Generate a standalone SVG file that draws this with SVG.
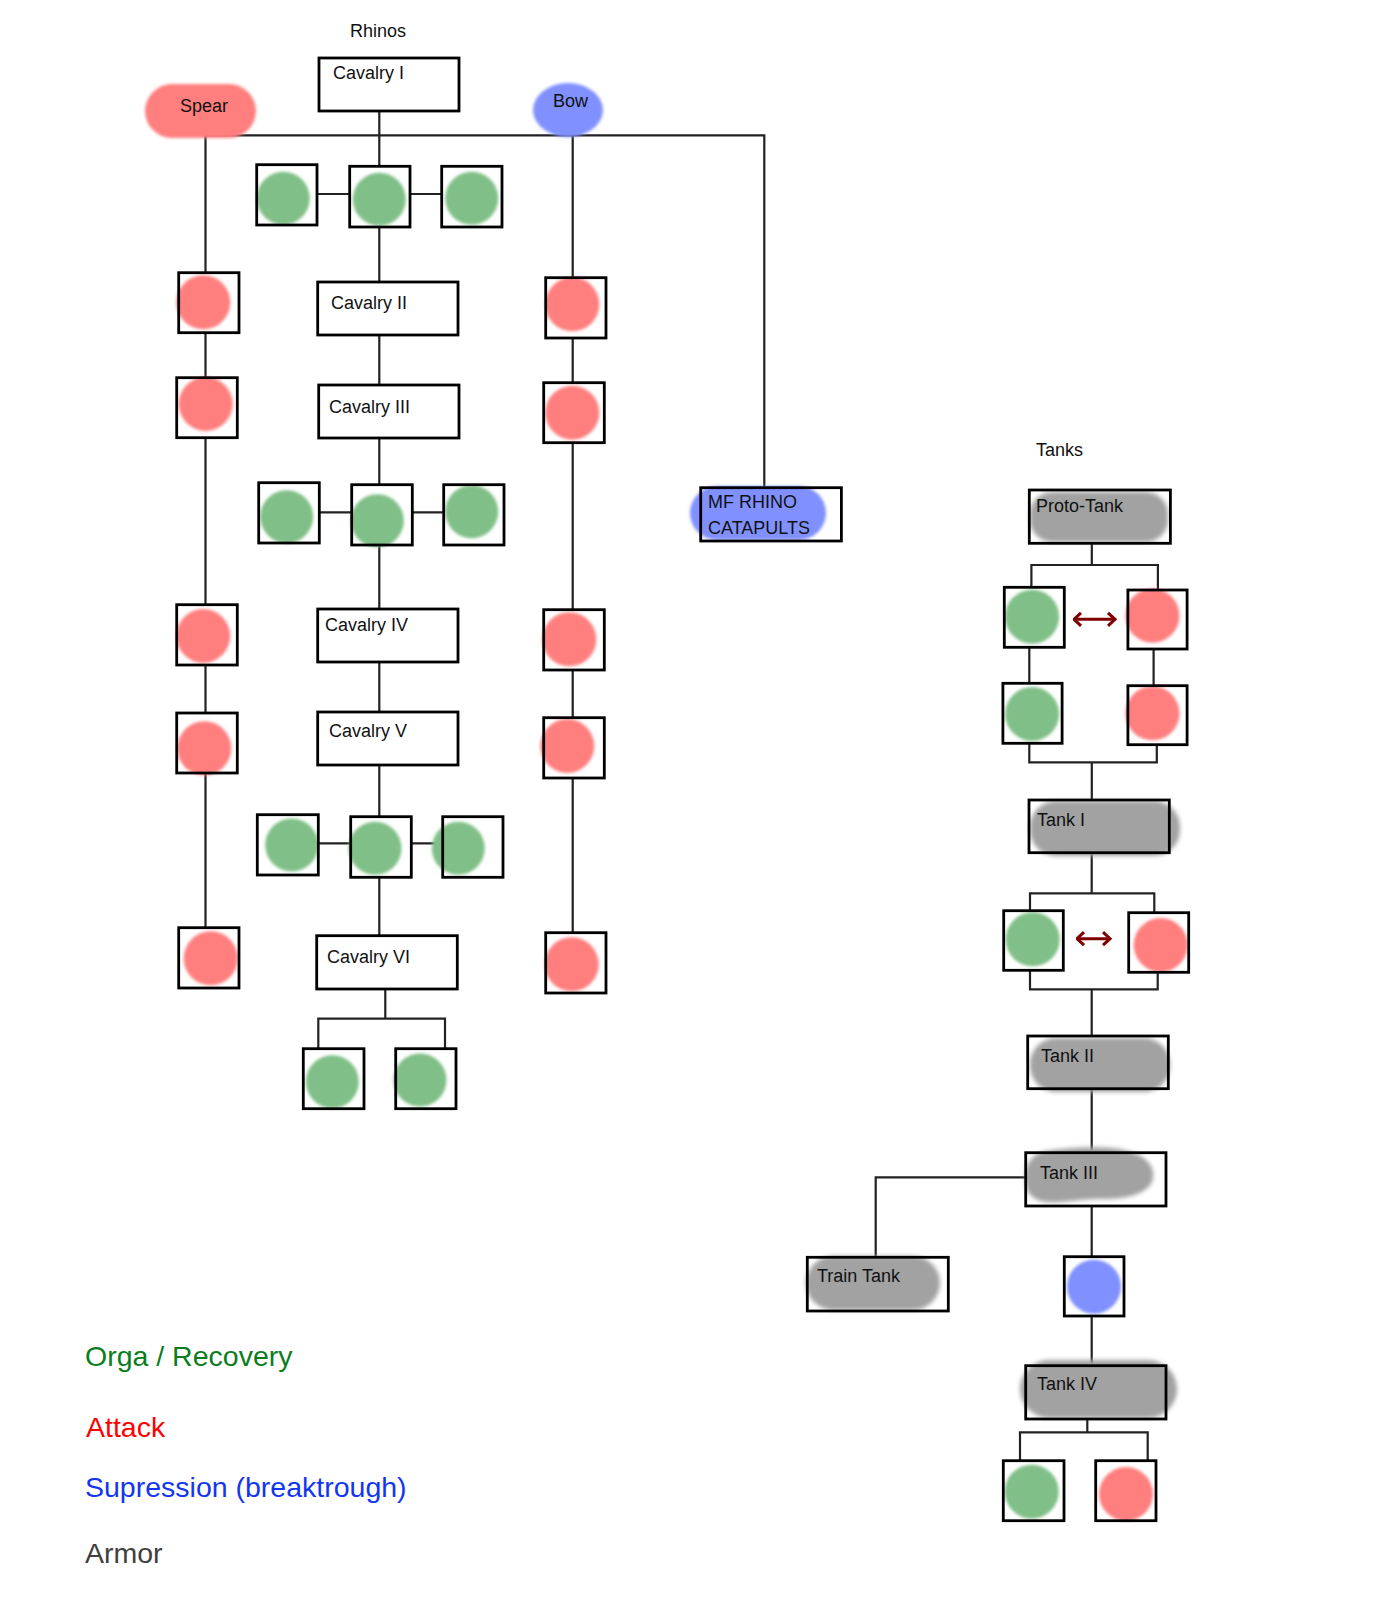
<svg xmlns="http://www.w3.org/2000/svg" width="1400" height="1600" viewBox="0 0 1400 1600">
  <defs>
    <filter id="soft" x="-20%" y="-20%" width="140%" height="140%">
      <feGaussianBlur stdDeviation="1.6"/>
    </filter>
    <filter id="softer" x="-20%" y="-30%" width="140%" height="160%">
      <feGaussianBlur stdDeviation="2.2"/>
    </filter>
    <marker id="chev" viewBox="0 0 10 16" refX="8.5" refY="8" markerWidth="10" markerHeight="16" markerUnits="userSpaceOnUse" orient="auto-start-reverse">
      <path d="M1.5,1.5 L8.5,8 L1.5,14.5" fill="none" stroke="#800000" stroke-width="3"/>
    </marker>
    <style>
      .lbl { font-family: "Liberation Sans", Arial, sans-serif; font-size: 18px; fill: #111; }
      .box { fill: none; stroke: #000; stroke-width: 2.8; }
      .con { fill: none; stroke: #222; stroke-width: 2.2; }
      .g { fill: #80BF87; filter: url(#soft); }
      .r { fill: #FF7F7F; filter: url(#soft); }
      .b { fill: #8091FF; filter: url(#soft); }
      .gr { fill: #A2A2A2; filter: url(#softer); }
      .leg { font-family: "Liberation Sans", Arial, sans-serif; font-size: 28.5px; }
      .swap { stroke: #800000; stroke-width: 3; fill: none; marker-start: url(#chev); marker-end: url(#chev); }
    </style>
  </defs>

  <!-- section titles -->
  <text class="lbl" x="350" y="37">Rhinos</text>
  <text class="lbl" x="1036" y="456">Tanks</text>

  <!-- connectors -->
  <g id="connectors">
    <!-- rhino trunk -->
    <path class="con" d="M205.5,135.3 H764.3 V487.7"/>
    <!-- spear column -->
    <path class="con" d="M205.5,135.3 V272.7 M205.5,332.7 V377.7 M205.5,437.7 V604.7 M205.5,665 V713 M205.5,773 V927.7"/>
    <!-- bow column -->
    <path class="con" d="M572.7,135.3 V277.7 M572.7,338 V382.7 M572.7,442.7 V609.7 M572.7,670 V717.7 M572.7,778 V932.7"/>
    <!-- cavalry column -->
    <path class="con" d="M379.3,110.7 V166.3 M379.3,227 V282 M379.3,335 V385 M379.3,438 V484.7 M379.3,545 V609 M379.3,662 V712 M379.3,765 V816.7 M379.3,877.3 V935.7"/>
    <path class="con" d="M317,194 H349.7 M410,194 H441.7 M319.3,512.3 H351.7 M412.3,512.3 H443.7 M318.3,843.3 H350.7 M411.3,843.3 H442.7"/>
    <path class="con" d="M385.3,989 V1018.7 M318.3,1048.7 V1018.7 H445 V1048.7"/>
    <!-- tank column -->
    <path class="con" d="M1091.8,543.3 V565 M1031.4,587.3 V565 H1157.9 V590"/>
    <path class="con" d="M1029.3,647.3 V683.3 M1153.6,649 V685.7"/>
    <path class="con" d="M1029.3,743.3 V762.3 H1156.8 V744.7 M1091.8,762.3 V800"/>
    <path class="con" d="M1091.7,852.7 V893.3 M1030,910.7 V893.3 H1155.3 M1154.3,893.3 V912.7"/>
    <path class="con" d="M1030,970.3 V989.3 H1157.7 V972.3 M1091.7,989.3 V1036"/>
    <path class="con" d="M1091.7,1088.7 V1152.7 M1025.7,1177.3 H875.7 V1257.3"/>
    <path class="con" d="M1091.7,1206 V1256.7 M1091.7,1316 V1365.7"/>
    <path class="con" d="M1087.3,1419 V1432.3 M1020,1460.7 V1432.3 H1147.7 V1460.7"/>
  </g>

  <!-- rhino branch headers -->
  <g id="spear">
    <rect class="r" x="145" y="84" width="111" height="54" rx="27"/>
    <text class="lbl" x="180" y="112">Spear</text>
  </g>
  <g id="bow">
    <ellipse class="b" cx="568" cy="110" rx="35" ry="27"/>
    <text class="lbl" x="553" y="107">Bow</text>
  </g>

  <!-- cavalry tiers -->
  <g id="cavalry-1"><rect class="box" x="319" y="58" width="140" height="53"/><text class="lbl" x="333" y="79">Cavalry I</text></g>
  <g id="cavalry-2"><rect class="box" x="317.7" y="282" width="140.3" height="53"/><text class="lbl" x="331" y="309">Cavalry II</text></g>
  <g id="cavalry-3"><rect class="box" x="318.7" y="385" width="140.3" height="53"/><text class="lbl" x="329" y="413">Cavalry III</text></g>
  <g id="cavalry-4"><rect class="box" x="317.7" y="609" width="140.3" height="53"/><text class="lbl" x="325" y="631">Cavalry IV</text></g>
  <g id="cavalry-5"><rect class="box" x="317.7" y="712" width="140.3" height="53"/><text class="lbl" x="329" y="737">Cavalry V</text></g>
  <g id="cavalry-6"><rect class="box" x="316.7" y="935.7" width="140.6" height="53.3"/><text class="lbl" x="327" y="963">Cavalry VI</text></g>

  <!-- cavalry perk rows (orga / recovery) -->
  <g id="cav-perk-1a"><circle class="g" cx="283.3" cy="198.3" r="26.5"/><rect class="box" x="256.7" y="164.7" width="60.3" height="60.3"/></g>
  <g id="cav-perk-1b"><circle class="g" cx="379.3" cy="199.3" r="26.5"/><rect class="box" x="349.7" y="166.3" width="60.3" height="60.7"/></g>
  <g id="cav-perk-1c"><circle class="g" cx="471.7" cy="198.3" r="26.5"/><rect class="box" x="441.7" y="166.3" width="60.3" height="60.7"/></g>

  <g id="cav-perk-2a"><circle class="g" cx="286.7" cy="516.7" r="26.5"/><rect class="box" x="258.7" y="482.7" width="60.6" height="60.3"/></g>
  <g id="cav-perk-2b"><circle class="g" cx="377.3" cy="520.7" r="26.5"/><rect class="box" x="351.7" y="484.7" width="60.6" height="60.3"/></g>
  <g id="cav-perk-2c"><circle class="g" cx="471.7" cy="511.7" r="26.5"/><rect class="box" x="443.7" y="484.7" width="60.3" height="60.3"/></g>

  <g id="cav-perk-3a"><circle class="g" cx="291.7" cy="845" r="26.5"/><rect class="box" x="257.3" y="814.7" width="61" height="60.3"/></g>
  <g id="cav-perk-3b"><circle class="g" cx="375" cy="848.3" r="26.5"/><rect class="box" x="350.7" y="816.7" width="60.6" height="60.6"/></g>
  <g id="cav-perk-3c"><circle class="g" cx="458.3" cy="848.3" r="26.5"/><rect class="box" x="442.7" y="816.7" width="60.3" height="60.6"/></g>

  <g id="cav-perk-4a"><circle class="g" cx="332.3" cy="1081.7" r="26.5"/><rect class="box" x="303.3" y="1048.7" width="60.7" height="60"/></g>
  <g id="cav-perk-4b"><circle class="g" cx="420" cy="1080" r="26.5"/><rect class="box" x="395.7" y="1048.7" width="60.3" height="60"/></g>

  <!-- spear line (attack) -->
  <g id="spear-1"><circle class="r" cx="203.3" cy="302.3" r="27"/><rect class="box" x="178.7" y="272.7" width="60.3" height="60"/></g>
  <g id="spear-2"><circle class="r" cx="205.7" cy="404" r="27"/><rect class="box" x="176.7" y="377.7" width="60.6" height="60"/></g>
  <g id="spear-3"><circle class="r" cx="203.3" cy="636" r="27"/><rect class="box" x="176.7" y="604.7" width="60.6" height="60.3"/></g>
  <g id="spear-4"><circle class="r" cx="204.3" cy="748.3" r="27"/><rect class="box" x="176.7" y="713" width="60.6" height="60"/></g>
  <g id="spear-5"><circle class="r" cx="210.7" cy="958.3" r="27"/><rect class="box" x="178.7" y="927.7" width="60.3" height="60.3"/></g>

  <!-- bow line (attack) -->
  <g id="bow-1"><circle class="r" cx="572.3" cy="304.3" r="27"/><rect class="box" x="545.7" y="277.7" width="60.3" height="60.3"/></g>
  <g id="bow-2"><circle class="r" cx="572.3" cy="412.7" r="27"/><rect class="box" x="543.7" y="382.7" width="60.6" height="60"/></g>
  <g id="bow-3"><circle class="r" cx="569.3" cy="639.3" r="27"/><rect class="box" x="543.7" y="609.7" width="60.6" height="60.3"/></g>
  <g id="bow-4"><circle class="r" cx="567.3" cy="746" r="27"/><rect class="box" x="543.7" y="717.7" width="60.6" height="60.3"/></g>
  <g id="bow-5"><circle class="r" cx="571.7" cy="964.3" r="27"/><rect class="box" x="545.7" y="932.7" width="60.3" height="60.3"/></g>

  <!-- catapult branch -->
  <g id="mf-rhino-catapults">
    <rect class="b" x="690" y="486" width="136" height="54" rx="27"/>
    <rect class="box" x="700.7" y="487.7" width="140.7" height="53.3"/>
    <text class="lbl" x="708" y="508">MF RHINO</text>
    <text class="lbl" x="708" y="534">CATAPULTS</text>
  </g>

  <!-- tank tiers -->
  <g id="proto-tank">
    <rect class="gr" x="1030" y="492" width="138" height="50" rx="22"/>
    <rect class="box" x="1029.3" y="490" width="141.1" height="53.3"/>
    <text class="lbl" x="1036" y="512">Proto-Tank</text>
  </g>
  <g id="tank-1">
    <rect class="gr" x="1030" y="801" width="150" height="55" rx="26"/>
    <rect class="box" x="1029" y="800" width="140.3" height="52.7"/>
    <text class="lbl" x="1037" y="826">Tank I</text>
  </g>
  <g id="tank-2">
    <rect class="gr" x="1030" y="1038" width="140" height="54" rx="26"/>
    <rect class="box" x="1027.7" y="1036" width="140.6" height="52.7"/>
    <text class="lbl" x="1041" y="1062">Tank II</text>
  </g>
  <g id="tank-3">
    <path class="gr" d="M1052,1150 C1090,1146 1140,1143 1152,1168 C1160,1192 1130,1200 1098,1199 C1070,1199 1040,1210 1028,1192 C1022,1176 1024,1152 1052,1150 Z"/>
    <rect class="box" x="1025.7" y="1152.7" width="140.3" height="53.3"/>
    <text class="lbl" x="1040" y="1179">Tank III</text>
  </g>
  <g id="train-tank">
    <rect class="gr" x="806" y="1256" width="134" height="54" rx="27"/>
    <rect class="box" x="807.3" y="1257.3" width="141" height="53.7"/>
    <text class="lbl" x="817" y="1282">Train Tank</text>
  </g>
  <g id="tank-4">
    <rect class="gr" x="1020" y="1360" width="157" height="58" rx="29"/>
    <rect class="box" x="1025.7" y="1365.7" width="140.3" height="53.3"/>
    <text class="lbl" x="1037" y="1390">Tank IV</text>
  </g>

  <!-- tank perks -->
  <g id="tank-perk-1g"><circle class="g" cx="1032.1" cy="616.7" r="27"/><rect class="box" x="1004.3" y="587.3" width="60" height="60"/></g>
  <g id="tank-perk-1r"><circle class="r" cx="1152.5" cy="615.7" r="27"/><rect class="box" x="1127.9" y="590" width="59.2" height="59"/></g>
  <g id="tank-perk-2g"><circle class="g" cx="1032.1" cy="714" r="27"/><rect class="box" x="1002.9" y="683.3" width="59.2" height="60"/></g>
  <g id="tank-perk-2r"><circle class="r" cx="1152.5" cy="713.3" r="27"/><rect class="box" x="1127.9" y="685.7" width="59.2" height="59"/></g>
  <g id="tank-perk-3g"><circle class="g" cx="1032.7" cy="939.3" r="27"/><rect class="box" x="1003.7" y="910.7" width="59.6" height="59.6"/></g>
  <g id="tank-perk-3r"><circle class="r" cx="1160.7" cy="945" r="27"/><rect class="box" x="1128.7" y="912.7" width="60" height="59.6"/></g>
  <g id="tank-perk-4b"><circle class="b" cx="1094" cy="1286.7" r="27"/><rect class="box" x="1064.3" y="1256.7" width="59.7" height="59.3"/></g>
  <g id="tank-perk-5g"><circle class="g" cx="1031.7" cy="1491.7" r="27"/><rect class="box" x="1003.3" y="1460.7" width="60.7" height="60"/></g>
  <g id="tank-perk-5r"><circle class="r" cx="1126" cy="1494" r="27"/><rect class="box" x="1095.7" y="1460.7" width="60.3" height="60"/></g>

  <!-- either/or choices -->
  <g id="choice-arrows">
    <line class="swap" x1="1074" y1="619.3" x2="1115" y2="619.3"/>
    <line class="swap" x1="1077" y1="938.7" x2="1110" y2="938.7"/>
  </g>

  <!-- legend -->
  <g id="legend">
    <text class="leg" x="85" y="1366" fill="#0A7D1E">Orga / Recovery</text>
    <text class="leg" x="86" y="1437" fill="#FF0000">Attack</text>
    <text class="leg" x="85" y="1497" fill="#1236F0">Supression (breaktrough)</text>
    <text class="leg" x="85" y="1563" fill="#404040">Armor</text>
  </g>
</svg>
